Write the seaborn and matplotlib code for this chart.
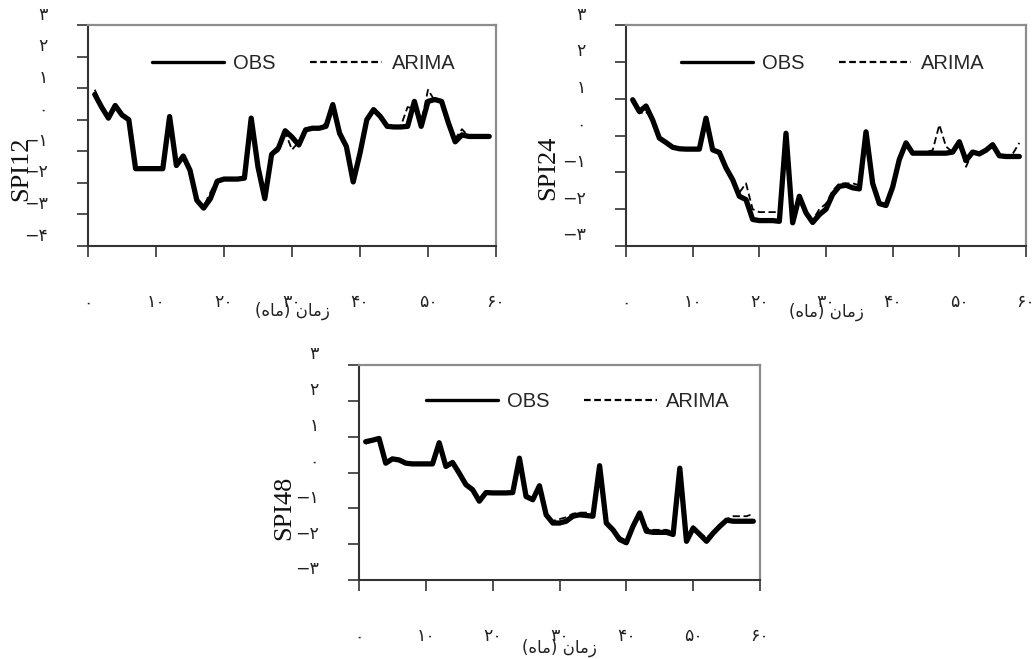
import numpy as np
import pandas as pd
import matplotlib
matplotlib.use("Agg")
import matplotlib.pyplot as plt
import seaborn as sns
from matplotlib.lines import Line2D
from matplotlib.transforms import ScaledTranslation

# ---------------- data ----------------
months = list(range(1, 60))

spi12_obs = [0.8, 0.4, 0.05, 0.45, 0.15, 0.0, -1.55, -1.55, -1.55, -1.55,
             -1.55, 0.1, -1.45, -1.15, -1.6, -2.55, -2.8, -2.5, -1.95, -1.88,
             -1.88, -1.88, -1.85, 0.05, -1.5, -2.5, -1.1, -0.9, -0.35, -0.55,
             -0.8, -0.32, -0.27, -0.27, -0.21, 0.48, -0.43, -0.85, -1.97, -1.06,
             0.0, 0.32, 0.1, -0.21, -0.23, -0.23, -0.21, 0.58, -0.21, 0.58,
             0.64, 0.58, -0.1, -0.7, -0.48, -0.53, -0.53, -0.53, -0.53]
spi12_arima = [0.95, 0.45, 0.05, 0.4, 0.15, 0.0, -1.5, -1.55, -1.55, -1.55,
               -1.5, 0.05, -1.4, -1.15, -1.6, -2.5, -2.75, -2.3, -1.9, -1.88,
               -1.88, -1.88, -1.85, 0.0, -1.5, -2.45, -1.1, -1.0, -0.4, -0.95,
               -0.7, -0.3, -0.27, -0.27, -0.1, 0.35, -0.3, -0.85, -1.9, -1.06,
               0.0, 0.3, 0.1, -0.21, -0.23, -0.2, 0.4, 0.35, -0.1, 0.95,
               0.6, 0.58, 0.0, -0.6, -0.3, -0.53, -0.53, -0.53, -0.53]

spi24_obs = [0.97, 0.65, 0.8, 0.42, -0.07, -0.19, -0.32, -0.36, -0.37, -0.37,
             -0.37, 0.47, -0.39, -0.46, -0.88, -1.2, -1.65, -1.74, -2.28, -2.31,
             -2.31, -2.31, -2.33, 0.06, -2.37, -1.65, -2.1, -2.36, -2.15, -2.0,
             -1.6, -1.38, -1.35, -1.42, -1.45, 0.1, -1.3, -1.85, -1.9, -1.4,
             -0.65, -0.2, -0.48, -0.48, -0.48, -0.48, -0.48, -0.48, -0.45, -0.17,
             -0.68, -0.45, -0.5, -0.4, -0.25, -0.55, -0.57, -0.57, -0.57]
spi24_arima = [0.95, 0.6, 0.65, 0.42, -0.07, -0.19, -0.32, -0.36, -0.37, -0.37,
               -0.37, 0.4, -0.39, -0.46, -0.85, -1.15, -1.55, -1.3, -2.0, -2.08,
               -2.08, -2.08, -2.08, 0.0, -2.3, -1.7, -2.1, -2.3, -2.0, -1.85,
               -1.5, -1.3, -1.3, -1.3, -1.35, 0.05, -1.2, -1.85, -1.9, -1.4,
               -0.65, -0.25, -0.48, -0.48, -0.45, -0.4, 0.29, -0.3, -0.45, -0.2,
               -0.85, -0.45, -0.5, -0.4, -0.3, -0.55, -0.57, -0.5, -0.2]

spi48_obs = [0.86, 0.9, 0.95, 0.26, 0.38, 0.35, 0.26, 0.24, 0.24, 0.24,
             0.24, 0.83, 0.17, 0.28, -0.02, -0.34, -0.48, -0.8, -0.56, -0.57,
             -0.57, -0.57, -0.56, 0.4, -0.67, -0.76, -0.37, -1.18, -1.41, -1.41,
             -1.36, -1.22, -1.18, -1.2, -1.22, 0.19, -1.41, -1.6, -1.87, -1.96,
             -1.5, -1.13, -1.64, -1.67, -1.67, -1.67, -1.73, 0.12, -1.92, -1.55,
             -1.73, -1.92, -1.69, -1.5, -1.33, -1.36, -1.36, -1.36, -1.36]
spi48_arima = [0.8, 0.88, 0.95, 0.3, 0.38, 0.35, 0.26, 0.24, 0.24, 0.24,
               0.24, 0.75, 0.2, 0.28, -0.02, -0.34, -0.48, -0.75, -0.56, -0.57,
               -0.57, -0.57, -0.56, 0.3, -0.62, -0.72, -0.4, -1.12, -1.35, -1.3,
               -1.25, -1.15, -1.12, -1.12, -1.15, 0.1, -1.35, -1.55, -1.8, -1.9,
               -1.45, -1.1, -1.55, -1.6, -1.6, -1.6, -1.65, 0.05, -1.85, -1.5,
               -1.7, -1.82, -1.65, -1.45, -1.3, -1.22, -1.22, -1.22, -1.15]

series_names = ["OBS", "ARIMA"]
x_ticks = [0, 10, 20, 30, 40, 50, 60]
x_tick_labels = ["۰", "۱۰", "۲۰", "۳۰", "۴۰", "۵۰", "۶۰"]
y_ticks_a = [3, 2, 1, 0, -1, -2, -3, -4]
y_tick_labels_a = ["۳", "۲", "۱", "۰", "−۱", "−۲", "−۳", "−۴"]
y_ticks_b = [3, 2, 1, 0, -1, -2, -3]
y_tick_labels_b = ["۳", "۲", "۱", "۰", "−۱", "−۲", "−۳"]
# "زمان (ماه)" in visual order with Arabic presentation forms
x_label_text = "(\uFEE9\uFE8E\uFEE3) \uFEE5\uFE8E\uFEE3\uFEAF"

# ---------------- style ----------------
sns.set_theme(style="white")
plt.rcParams["font.family"] = ["DejaVu Sans"]

fig = plt.figure(figsize=(10.34, 6.59), dpi=100)

panels = [
    dict(rect=[88 / 1034, (659 - 246) / 659, 408 / 1034, 221 / 659],
         obs=spi12_obs, arima=spi12_arima, ylabel="SPI12",
         yt=y_ticks_a, ytl=y_tick_labels_a, ylim=(-4, 3),
         ylab_pos=(-0.137, 0.35), xlab_y=-0.25, leg=(0.528, 0.824)),
    dict(rect=[626 / 1034, (659 - 246) / 659, 400 / 1034, 221 / 659],
         obs=spi24_obs, arima=spi24_arima, ylabel="SPI24",
         yt=y_ticks_b, ytl=y_tick_labels_b, ylim=(-3, 3),
         ylab_pos=(-0.167, 0.353), xlab_y=-0.255, leg=(0.516, 0.824)),
    dict(rect=[359 / 1034, (659 - 580) / 659, 401 / 1034, 215 / 659],
         obs=spi48_obs, arima=spi48_arima, ylabel="SPI48",
         yt=y_ticks_b, ytl=y_tick_labels_b, ylim=(-3, 3),
         ylab_pos=(-0.16, 0.335), xlab_y=-0.275, leg=(0.545, 0.829)),
]

for p in panels:
    ax = fig.add_axes(p["rect"])
    df = pd.DataFrame({"month": months * 2,
                       "value": p["obs"] + p["arima"],
                       "series": [series_names[0]] * len(months) + [series_names[1]] * len(months)})
    sns.lineplot(data=df[df.series == "OBS"], x="month", y="value", ax=ax,
                 color="black", linewidth=3.8, solid_joinstyle="round",
                 solid_capstyle="round", legend=False)
    sns.lineplot(data=df[df.series == "ARIMA"], x="month", y="value", ax=ax,
                 color="black", linewidth=1.3, linestyle=(0, (4, 2)),
                 legend=False)

    ax.set_xlim(0, 60)
    ax.set_ylim(*p["ylim"])
    ax.set_xticks(x_ticks)
    ax.set_xticklabels(x_tick_labels, fontsize=12.5, color="#222222")
    ax.set_yticks(p["yt"])
    ax.set_yticklabels(p["ytl"], fontsize=12.5, color="#222222")
    ax.tick_params(axis="both", direction="out", length=8, width=1.2,
                   color="#333333", left=True, bottom=True)
    ax.tick_params(axis="x", pad=26)
    ax.tick_params(axis="y", pad=21)
    for lab in ax.get_yticklabels():
        lab.set_transform(lab.get_transform() +
                          ScaledTranslation(0, 9 / 72, fig.dpi_scale_trans))

    for side in ["top", "right"]:
        ax.spines[side].set_color("#8c8c8c")
        ax.spines[side].set_linewidth(1.6)
    for side in ["left", "bottom"]:
        ax.spines[side].set_color("#333333")
        ax.spines[side].set_linewidth(1.5)

    ax.set_ylabel(p["ylabel"], family=["Liberation Serif"], fontsize=19,
                  color="#111111")
    ax.yaxis.set_label_coords(*p["ylab_pos"])
    ax.set_xlabel(x_label_text, fontsize=12, color="#222222")
    ax.xaxis.set_label_coords(0.5, p["xlab_y"])

    handles = [Line2D([0], [0], color="black", linewidth=2.4),
               Line2D([0], [0], color="black", linewidth=1.6, linestyle=(0, (3, 1.6)))]
    ax.legend(handles, series_names, loc="center", bbox_to_anchor=p["leg"],
              ncol=2, frameon=False, handlelength=3.6,
              handletextpad=0.45, columnspacing=1.7, borderpad=0,
              prop={"family": "Liberation Sans", "size": 14.5})

fig.savefig("out.png", dpi=100, facecolor="white")
